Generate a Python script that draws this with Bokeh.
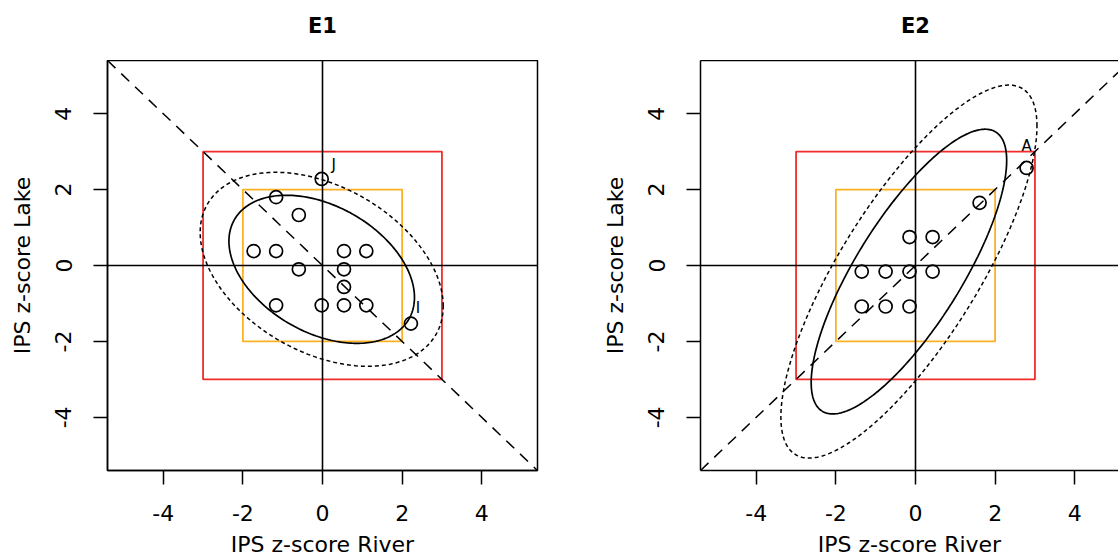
import numpy as np
from bokeh.plotting import figure
from bokeh.layouts import row, column
from bokeh.models import Span, Slope, FixedTicker, LinearAxis
from bokeh.embed import file_html
from bokeh.resources import INLINE
from bokeh.core.properties import value

# ---------------- data ----------------
panel_titles = ["E1", "E2"]
x_label = "IPS z-score River"
y_label = "IPS z-score Lake"
tick_values = [-4, -2, 0, 2, 4]
tick_labels = ["-4", "-2", "0", "2", "4"]

e1_river = [-0.02, -1.165, -0.595, -1.73, -1.165, 0.54, 1.10, -0.595, 0.54, 0.54, -1.165, -0.02, 0.54, 1.10, 2.22]
e1_lake = [2.28, 1.80, 1.33, 0.38, 0.38, 0.38, 0.38, -0.10, -0.10, -0.565, -1.05, -1.05, -1.05, -1.05, -1.53]
e1_labels = ["J", "", "", "", "", "", "", "", "", "", "", "", "", "", "I"]

e2_river = [2.79, 1.61, -0.15, 0.43, -1.35, -0.75, -0.15, 0.43, -1.35, -0.75, -0.15]
e2_lake = [2.57, 1.65, 0.75, 0.75, -0.16, -0.16, -0.16, -0.16, -1.08, -1.08, -1.08]
e2_labels = ["A", "", "", "", "", "", "", "", "", "", ""]

# ellipse parameters (centre, spread, correlation)
e1_center = [-0.02, -0.10]
e1_spread = [2.33, 1.95]
e1_rho = -0.38
e2_center = [-0.165, -0.16]
e2_spread = [2.455, 3.75]
e2_rho = 0.78
ellipse_levels = [1.0, 1.31]          # inner (solid), outer (dashed)

box_limits = [2, 3]
box_colors = ["#FBB122", "#F02C2C"]

diag_slopes = [-1, 1]

FONT = "DejaVu Sans"
XMIN, XMAX = -5.4, 5.4
YMIN, YMAX = -5.4, 5.4
FRAME_W, FRAME_H = 430, 410
FRAME_W2 = 418
TITLE_H = 60


def ellipse_xy(center, spread, rho, level, n=240):
    t = np.linspace(0, 2 * np.pi, n)
    x = center[0] + level * spread[0] * np.cos(t)
    y = center[1] + level * spread[1] * (rho * np.cos(t) + np.sqrt(1 - rho ** 2) * np.sin(t))
    return x, y


def title_strip(title, frame_w, x_end, right_border):
    t = figure(frame_width=frame_w, frame_height=TITLE_H,
               x_range=(XMIN, x_end), y_range=(0, TITLE_H),
               x_axis_type=None, y_axis_type=None,
               output_backend="svg", toolbar_location=None,
               min_border_left=107, min_border_right=right_border,
               min_border_top=0, min_border_bottom=0,
               background_fill_color="white", border_fill_color="white")
    t.grid.visible = False
    t.outline_line_color = None
    t.text(x=[0], y=[TITLE_H - 25], text=[title], text_align="center",
           text_baseline="middle", text_font=value(FONT), text_color="black",
           text_font_size="21px", text_font_style="bold")
    return t


def make_panel(xs, ys, labels, center, spread, rho, slope, frame_w, x_end, right_border, last):
    p = figure(frame_width=frame_w, frame_height=FRAME_H,
               x_range=(XMIN, x_end), y_range=(YMIN, YMAX),
               output_backend="svg", toolbar_location=None,
               min_border_left=107, min_border_right=right_border,
               min_border_top=0, min_border_bottom=88,
               background_fill_color="white", border_fill_color="white")
    p.grid.visible = False
    if last:
        p.outline_line_color = None
    else:
        p.outline_line_color = "black"
        p.outline_line_width = 1.5

    overrides = {v: s for v, s in zip(tick_values, tick_labels)}
    for ax in (p.xaxis[0], p.yaxis[0]):
        ax.ticker = FixedTicker(ticks=tick_values)
        ax.major_label_overrides = overrides
        ax.minor_tick_line_color = None
        ax.major_tick_in = 0
        ax.major_tick_out = 14
        ax.major_tick_line_width = 1.5
        ax.major_tick_line_color = "black"
        ax.axis_line_color = "black"
        ax.axis_line_width = 1.5
        ax.major_label_text_font = FONT
        ax.major_label_text_font_size = "22px"
        ax.major_label_text_color = "black"
        ax.axis_label_text_font = FONT
        ax.axis_label_text_font_size = "22px"
        ax.axis_label_text_font_style = "normal"
        ax.axis_label_text_color = "black"
    p.xaxis.axis_label = x_label
    p.yaxis.axis_label = y_label
    p.xaxis.major_label_standoff = 20
    p.xaxis.axis_label_standoff = 8
    p.xaxis.axis_label_text_line_height = 0.6
    p.yaxis.major_label_standoff = 22
    p.yaxis.axis_label_standoff = 18
    p.yaxis.major_label_orientation = "vertical"

    if last:
        top = LinearAxis(ticker=FixedTicker(ticks=[]), axis_line_color="black",
                         axis_line_width=1.5, major_tick_line_color=None,
                         minor_tick_line_color=None, major_label_text_font_size="0px")
        p.add_layout(top, "above")

    # limit boxes
    for lim, col in zip(box_limits, box_colors):
        p.quad(left=[-lim], right=[lim], bottom=[-lim], top=[lim],
               fill_color=None, line_color=col, line_width=1.8)

    # zero lines
    p.add_layout(Span(location=0, dimension="height", line_color="black", line_width=1.6))
    p.add_layout(Span(location=0, dimension="width", line_color="black", line_width=1.6))

    # 1:1 line
    p.add_layout(Slope(gradient=slope, y_intercept=0, line_color="black",
                       line_width=1.5, line_dash="11 8"))

    # ellipses
    ex, ey = ellipse_xy(center, spread, rho, ellipse_levels[0])
    p.line(ex, ey, line_color="black", line_width=1.7)
    ex, ey = ellipse_xy(center, spread, rho, ellipse_levels[1])
    p.line(ex, ey, line_color="black", line_width=1.5, line_dash="4 3")

    # points
    p.scatter(xs, ys, size=13, marker="circle", fill_color=None,
              line_color="black", line_width=1.7)

    lx = [x for x, l in zip(xs, labels) if l]
    ly = [y for y, l in zip(ys, labels) if l]
    lt = [l for l in labels if l]
    return p, lx, ly, lt


x2_end = XMIN + (XMAX - XMIN) * FRAME_W2 / FRAME_W

p1, lx1, ly1, lt1 = make_panel(e1_river, e1_lake, e1_labels,
                               e1_center, e1_spread, e1_rho, diag_slopes[0],
                               FRAME_W, XMAX, 56, False)
p2, lx2, ly2, lt2 = make_panel(e2_river, e2_lake, e2_labels,
                               e2_center, e2_spread, e2_rho, diag_slopes[1],
                               FRAME_W2, x2_end, 0, True)

# J / I label offsets (upper right), A (above)
p1.text(x=lx1, y=ly1, text=lt1, x_offset=[12, 7], y_offset=[-14, -16],
        text_font=value(FONT), text_font_size="15px", text_align="center",
        text_baseline="middle", text_color="black")
p2.text(x=lx2, y=ly2, text=lt2, x_offset=[0], y_offset=[-22],
        text_font=value(FONT), text_font_size="15px", text_align="center",
        text_baseline="middle", text_color="black")

t1 = title_strip(panel_titles[0], FRAME_W, XMAX, 56)
t2 = title_strip(panel_titles[1], FRAME_W2, x2_end, 0)

layout = row(column(t1, p1), column(t2, p2))
open("out.html", "w").write(file_html(layout, INLINE))
